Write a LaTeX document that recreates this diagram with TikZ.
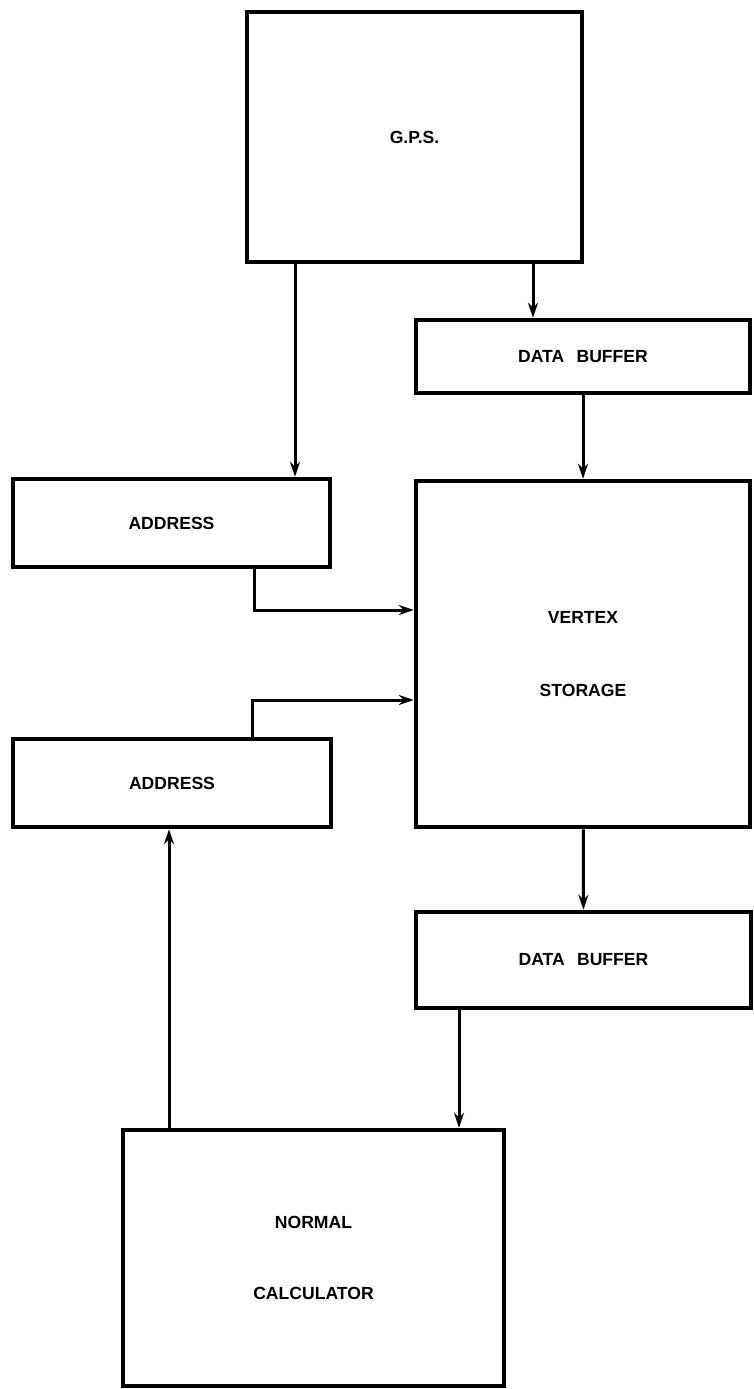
\documentclass[tikz,border=0pt]{standalone}
\usepackage{fontspec}
\setmainfont{Liberation Sans}
\usetikzlibrary{arrows.meta}

\begin{document}
\begin{tikzpicture}[>={Stealth[length=0.3cm,width=0.2cm]},
    unit/.style={draw, line width=0.09cm, font=\fontsize{10}{12}\selectfont\bfseries, align=center},
    wire/.style={line width=0.06cm}]
    \useasboundingbox (0,0) rectangle (15.06,-27.78);

    % Blocks
    \node[unit, minimum width=6.70cm, minimum height=5.00cm] (gps) at (8.29,-2.74) {G.P.S.};
    \node[unit, minimum width=6.68cm, minimum height=1.46cm] (buf1) at (11.66,-7.13) {DATA\hspace{0.7em}BUFFER};
    \node[unit, minimum width=6.34cm, minimum height=1.76cm] (adr1) at (3.43,-10.46) {ADDRESS};
    \node[unit, minimum width=6.68cm, minimum height=6.92cm] (vtx) at (11.66,-13.08) {VERTEX\\[30pt]STORAGE};
    \node[unit, minimum width=6.36cm, minimum height=1.76cm] (adr2) at (3.44,-15.66) {ADDRESS};
    \node[unit, minimum width=6.70cm, minimum height=1.92cm] (buf2) at (11.67,-19.20) {DATA\hspace{0.7em}BUFFER};
    \node[unit, minimum width=7.62cm, minimum height=5.12cm] (calc) at (6.27,-25.16) {NORMAL\\[28pt]CALCULATOR};

    % Taps and bends
    \coordinate (tapA) at (5.90,0);
    \coordinate (tapB) at (10.66,0);
    \coordinate (inA) at (5.08,-12.20);
    \coordinate (inB) at (5.04,-14.00);
    \coordinate (tapD) at (9.18,0);
    \coordinate (tapE) at (3.38,0);

    % G.P.S. outputs
    \draw[wire, ->] (tapA |- gps.south) -- (tapA |- adr1.north);
    \draw[wire, ->] (tapB |- gps.south) -- (tapB |- buf1.north);
    \draw[wire, ->] (buf1) -- (vtx);

    % Addresses into storage
    \draw[wire, ->] (adr1.south -| inA) -- (inA) -- (inA -| vtx.west);
    \draw[wire, ->] (adr2.north -| inB) -- (inB) -- (inB -| vtx.west);

    % Storage out
    \draw[wire, ->] (vtx) -- (buf2);
    \draw[wire, ->] (tapD |- buf2.south) -- (tapD |- calc.north);
    \draw[wire, ->] (tapE |- calc.north) -- (tapE |- adr2.south);
\end{tikzpicture}
\end{document}
